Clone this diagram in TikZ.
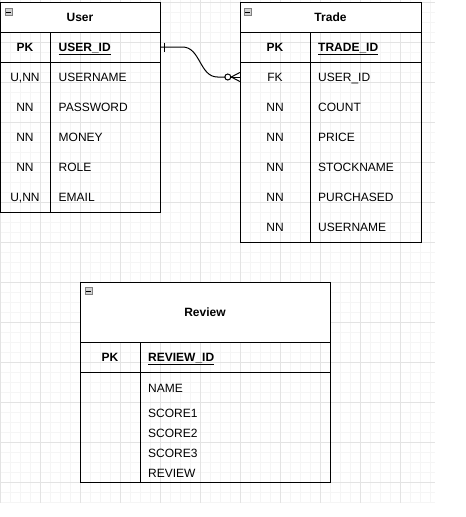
\documentclass[tikz,border=0pt]{standalone}
\usepackage{fontspec}
\setmainfont{Liberation Sans}
\begin{document}
\begin{tikzpicture}[x=1pt,y=-1pt,
  font=\fontsize{12}{14}\selectfont,
  box/.style={draw=black, line width=1pt, inner sep=0pt},
  titlebox/.style={box, fill=white},
  lbl/.style={inner sep=0pt, text height=8.6pt, text depth=0pt},
  namelbl/.style={lbl, anchor=west},
  boldlbl/.style={lbl, font=\fontsize{12}{14}\selectfont\bfseries},
  boldname/.style={namelbl, font=\fontsize{12}{14}\selectfont\bfseries},
  gridminor/.style={draw=black!4, line width=1pt},
  gridmajor/.style={draw=black!11, line width=1pt},
  iconbox/.style={draw=black!50, fill=black!18, line width=0.8pt, inner sep=0pt, minimum size=7.5pt},
  conn/.style={draw=black, line width=1pt}
]
\useasboundingbox (0,0) rectangle (466,517);
\fill[white] (0,0) rectangle (466,517);
% grid
\foreach \x in {0,10,...,430} \draw[gridminor] (\x,0) -- (\x,503);
\foreach \y in {2,12,...,502} \draw[gridminor] (0,\y) -- (435,\y);
\foreach \x in {0,40,...,400} \draw[gridmajor] (\x,0) -- (\x,503);
\foreach \y in {2,42,...,482} \draw[gridmajor] (0,\y) -- (435,\y);

% ---------- User ----------
\node[titlebox, minimum width=160pt, minimum height=30pt] (usertitle) at (80,17) {};
\node[boldlbl] (usertitletext) at (80,17) {User};
\node[box, minimum width=50pt, minimum height=30pt] (userpkkey) at (25,47) {};
\node[box, minimum width=110pt, minimum height=30pt] (userpkname) at (105,47) {};
\node[box, minimum width=50pt, minimum height=150pt] (userbodykey) at (25,137) {};
\node[box, minimum width=110pt, minimum height=150pt] (userbodyname) at (105,137) {};
\node[iconbox] (usericon) at (9,12) {};
\draw[line width=0.8pt] (usericon.west) ++(1.5,0) -- ++(4.5,0);
\node[boldlbl] (upk) at (25,47) {PK};
\node[boldname] (uid) at (58.5,47) {\underline{USER\_ID}};
\node[lbl] (uk1) at (25,77) {U,NN};
\node[namelbl] (un1) at (58.5,77) {USERNAME};
\node[lbl] (uk2) at (25,107) {NN};
\node[namelbl] (un2) at (58.5,107) {PASSWORD};
\node[lbl] (uk3) at (25,137) {NN};
\node[namelbl] (un3) at (58.5,137) {MONEY};
\node[lbl] (uk4) at (25,167) {NN};
\node[namelbl] (un4) at (58.5,167) {ROLE};
\node[lbl] (uk5) at (25,197) {U,NN};
\node[namelbl] (un5) at (58.5,197) {EMAIL};

% ---------- Trade ----------
\node[titlebox, minimum width=181pt, minimum height=30pt] (tradetitle) at (330.5,17) {};
\node[boldlbl] (tradetitletext) at (330.5,17) {Trade};
\node[box, minimum width=70pt, minimum height=30pt] (tradepkkey) at (275,47) {};
\node[box, minimum width=111pt, minimum height=30pt] (tradepkname) at (365.5,47) {};
\node[box, minimum width=70pt, minimum height=180pt] (tradebodykey) at (275,152) {};
\node[box, minimum width=111pt, minimum height=180pt] (tradebodyname) at (365.5,152) {};
\node[inner sep=0pt, minimum width=181pt, minimum height=30pt] (tradefk) at (330.5,77) {};
\node[iconbox] (tradeicon) at (248,12) {};
\draw[line width=0.8pt] (tradeicon.west) ++(1.5,0) -- ++(4.5,0);
\node[boldlbl] (tpk) at (275,47) {PK};
\node[boldname] (tid) at (318,47) {\underline{TRADE\_ID}};
\node[lbl] (tk1) at (275,77) {FK};
\node[namelbl] (tn1) at (318,77) {USER\_ID};
\node[lbl] (tk2) at (275,107) {NN};
\node[namelbl] (tn2) at (318,107) {COUNT};
\node[lbl] (tk3) at (275,137) {NN};
\node[namelbl] (tn3) at (318,137) {PRICE};
\node[lbl] (tk4) at (275,167) {NN};
\node[namelbl] (tn4) at (318,167) {STOCKNAME};
\node[lbl] (tk5) at (275,197) {NN};
\node[namelbl] (tn5) at (318,197) {PURCHASED};
\node[lbl] (tk6) at (275,227) {NN};
\node[namelbl] (tn6) at (318,227) {USERNAME};

% ---------- Review ----------
\node[titlebox, minimum width=250pt, minimum height=60pt] (reviewtitle) at (205,312) {};
\node[boldlbl] (reviewtitletext) at (205,312) {Review};
\node[box, minimum width=60pt, minimum height=30pt] (reviewpkkey) at (110,357) {};
\node[box, minimum width=190pt, minimum height=30pt] (reviewpkname) at (235,357) {};
\node[box, minimum width=60pt, minimum height=110pt] (reviewbodykey) at (110,427) {};
\node[box, minimum width=190pt, minimum height=110pt] (reviewbodyname) at (235,427) {};
\node[iconbox] (reviewicon) at (89,291) {};
\draw[line width=0.8pt] (reviewicon.west) ++(1.5,0) -- ++(4.5,0);
\node[boldlbl] (rpk) at (110,357) {PK};
\node[boldname] (rid) at (148,357) {\underline{REVIEW\_ID}};
\node[namelbl] (rn1) at (148,388) {NAME};
\node[namelbl] (rn2) at (148,413) {SCORE1};
\node[namelbl] (rn3) at (148,433) {SCORE2};
\node[namelbl] (rn4) at (148,453) {SCORE3};
\node[namelbl] (rn5) at (148,473) {REVIEW};

% ---------- connector ----------
\draw[conn] (userpkname.east) -- ++(22,0) to[out=0,in=180] ++(35,30) -- ++(8,0);
\draw[conn] (userpkname.east) ++(4,-4.5) -- ++(0,9);
\draw[conn] (tradefk.west) ++(-12,0) circle (3);
\draw[conn] (tradefk.west) ++(0,-4.5) -- ++(-8.5,4.5) -- ++(8.5,4.5);
\draw[conn] (tradefk.west) -- ++(-9,0);
\end{tikzpicture}
\end{document}
